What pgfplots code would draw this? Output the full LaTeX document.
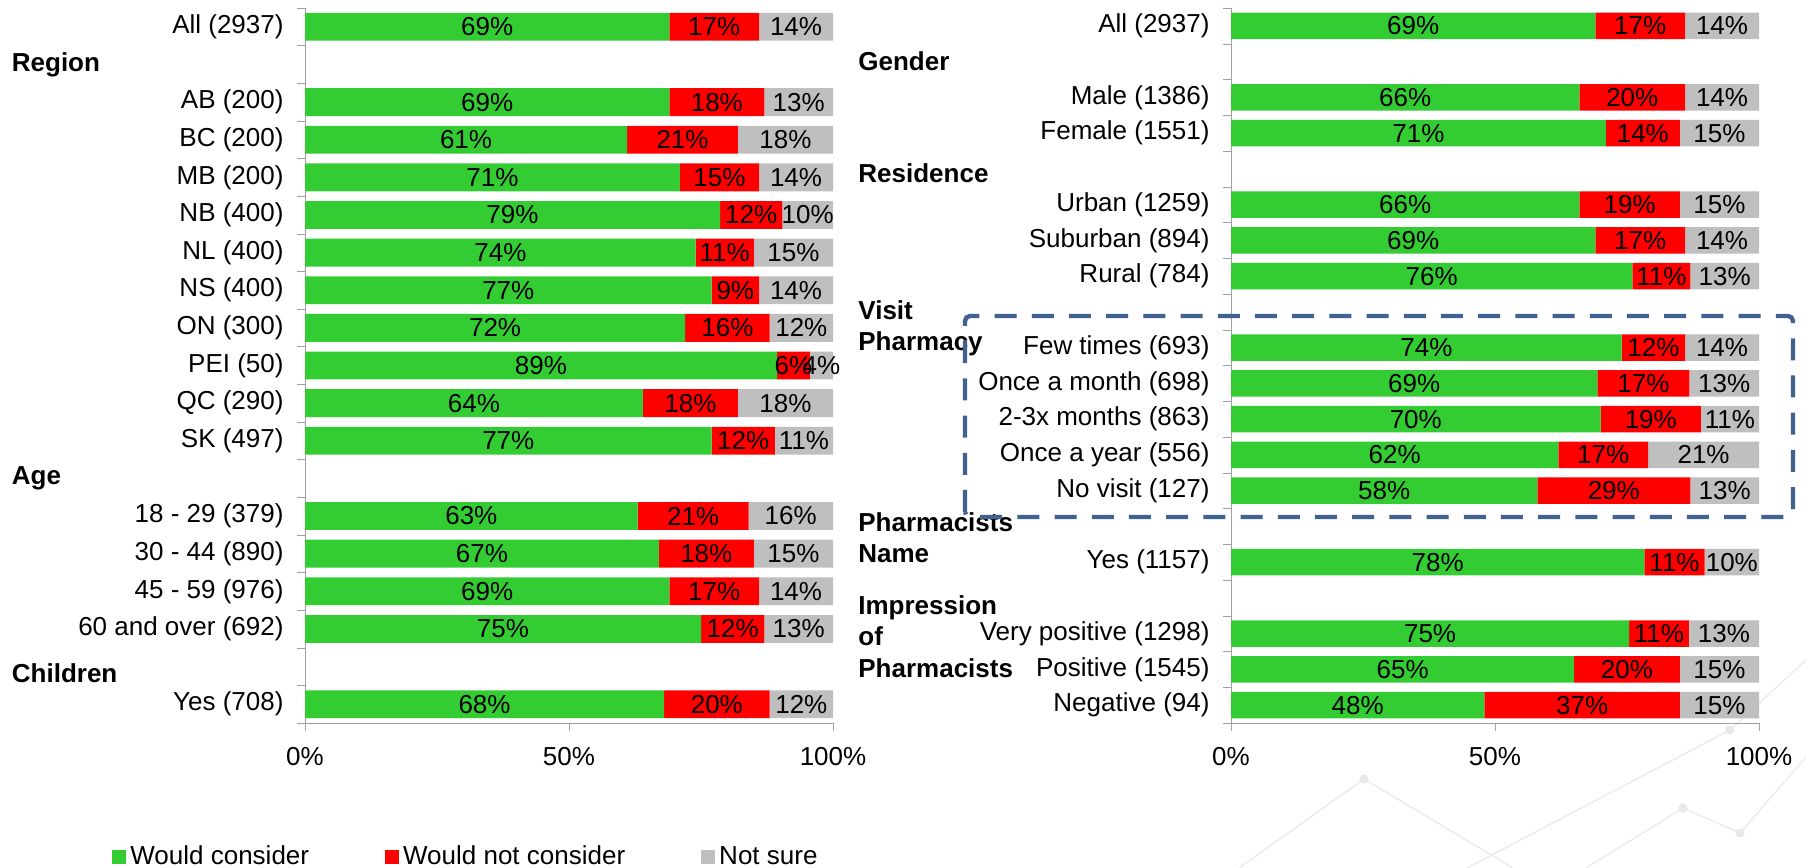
\documentclass[border=0pt]{standalone}
\usepackage{fontspec}
\setmainfont{Liberation Sans}
\usepackage{pgfplots}
\usepackage{pgfplotstable}
\pgfplotsset{compat=1.18}

\definecolor{cons}{RGB}{51,204,51}
\definecolor{notc}{RGB}{255,0,0}
\definecolor{nsure}{RGB}{191,191,191}
\definecolor{boxblue}{RGB}{65,97,143}
\definecolor{axgray}{RGB}{160,160,160}

% y = row slot (0 at top), g = would consider, r = would not consider, s = not sure
\pgfplotstableread{
y g r s
0 69 17 14
2 69 18 13
3 61 21 18
4 71 15 14
5 78.6 11.8 9.6
6 74 11 15
7 77 9 14
8 72 16 12
9 89.4 6.2 4.4
10 64 18 18
11 77 12 11
13 63 21 16
14 67 18 15
15 69 17 14
16 75 12 13
18 68 20 12
}\lefttab

\pgfplotstableread{
y g r s
0 69 17 14
2 66 20 14
3 71 14 15
5 66 19 15
6 69 17 14
7 76 11 13
9 74 12 14
10 69.4 17.4 13.2
11 70 19 11
12 62 17 21
13 58 29 13
15 78.3 11.4 10.3
17 75.4 11.3 13.3
18 65 20 15
19 48 37 15
}\righttab

\newcommand{\fs}{\fontsize{13}{15}\selectfont}

\pgfplotsset{
  panel/.style={
    xbar stacked,
    scale only axis, width=264pt, height=357.5pt,
    xmin=0, xmax=100, y dir=reverse,
    bar width=0.74,
    axis x line*=bottom, axis y line*=left,
    axis line style={draw=axgray, -},
    xtick={0,50,100}, xticklabels={0\%,50\%,100\%},
    tick align=outside, major tick length=4pt, minor tick length=4pt,
    every major y tick/.append style={draw=none},
    every minor y tick/.append style={draw=axgray},
    every major x tick/.append style={draw=axgray},
    ticklabel style={font=\fs},
    xticklabel style={yshift=-4.5pt},
    yticklabel style={xshift=-3.2pt},
    nodes near coords={\pgfmathprintnumber[fixed,precision=0,assume math mode=true]{\segv}\%},
    every node near coord/.append style={anchor=center, font=\fs, text=black},
    clip=false,
  },
  seg/.style={draw=none, fill=#1},
}

\begin{document}
\begin{tikzpicture}[x=1pt,y=1pt]
\useasboundingbox (0,0) rectangle (903,434);

% faint background decoration
\begin{scope}[black!7, line width=0.8pt]
  \draw (619.5,0) -- (682,44.5) -- (756.5,0);
  \draw (733.5,0) -- (865,69) -- (903,104);
  \draw (793,0) -- (841.5,30) -- (870,17.5) -- (903,55.5);
  \fill[black!9] (682,44.5) circle (2.3) (865,69) circle (2.3)
    (841.5,30) circle (2.3) (870,17.5) circle (2.3);
\end{scope}

\begin{axis}[panel, at={(152.5pt,72.5pt)}, anchor=south west,
    ymin=-0.5, ymax=18.5,
    ytick={0,...,18},
    minor ytick={-0.5,0.5,...,18.5},
    yticklabels={All (2937),{},AB (200),BC (200),MB (200),NB (400),NL (400),NS (400),ON (300),PEI (50),QC (290),SK (497),{},18 - 29 (379),30 - 44 (890),45 - 59 (976),60 and over (692),{},Yes (708)},
    legend columns=3,
    legend style={draw=none, fill=none, inner sep=0pt, font=\fs,
      at={(-0.3655,-0.1874)}, anchor=west,
      /tikz/every even column/.append style={column sep=36pt}},
    legend image code/.code={\fill[#1] (0pt,-3.5pt) rectangle (7pt,3.5pt);},
  ]
  \addplot[seg=cons, forget plot, visualization depends on={\thisrow{g}\as\segv}] table[x=g,y=y] {\lefttab};
  \addplot[seg=notc, forget plot, visualization depends on={\thisrow{r}\as\segv}] table[x=r,y=y] {\lefttab};
  \addplot[seg=nsure, forget plot, visualization depends on={\thisrow{s}\as\segv}] table[x=s,y=y] {\lefttab};
  \addlegendimage{seg=cons}
  \addlegendentry{Would consider}
  \addlegendimage{seg=notc}
  \addlegendentry{Would not consider}
  \addlegendimage{seg=nsure}
  \addlegendentry{Not sure}
\end{axis}

\begin{axis}[panel, at={(615.5pt,72.5pt)}, anchor=south west,
    ymin=-0.5, ymax=19.5,
    ytick={0,...,19},
    minor ytick={-0.5,0.5,...,19.5},
    yticklabels={All (2937),{},Male (1386),Female (1551),{},Urban (1259),Suburban (894),Rural (784),{},Few times (693),Once a month (698),2-3x months (863),Once a year (556),No visit (127),{},Yes (1157),{},Very positive (1298),Positive (1545),Negative (94)},
  ]
  \addplot[seg=cons, visualization depends on={\thisrow{g}\as\segv}] table[x=g,y=y] {\righttab};
  \addplot[seg=notc, visualization depends on={\thisrow{r}\as\segv}] table[x=r,y=y] {\righttab};
  \addplot[seg=nsure, visualization depends on={\thisrow{s}\as\segv}] table[x=s,y=y] {\righttab};
\end{axis}

% group headers
\tikzset{hdr/.style={anchor=west, inner sep=0pt, font=\fs\bfseries, text height=9.3pt, text depth=0pt}}
\node[hdr] at (5.75,403.1) {Region};
\node[hdr] at (5.75,196.5) {Age};
\node[hdr] at (5.75,97.5) {Children};
\node[hdr] at (429,403.2) {Gender};
\node[hdr] at (429,347.4) {Residence};
\node[hdr] at (429,279.0) {Visit};
\node[hdr] at (429,263.2) {Pharmacy};
\node[hdr] at (429,173.1) {Pharmacists};
\node[hdr] at (429,157.6) {Name};
\node[hdr] at (429,131.5) {Impression};
\node[hdr] at (429,115.8) {of};
\node[hdr] at (429,100.0) {Pharmacists};

% highlight box
\draw[boxblue, line width=2.2pt, dash pattern=on 11pt off 7.6pt, rounded corners=2.5pt]
  (482.5,175.5) rectangle (896.5,276);
\end{tikzpicture}
\end{document}
